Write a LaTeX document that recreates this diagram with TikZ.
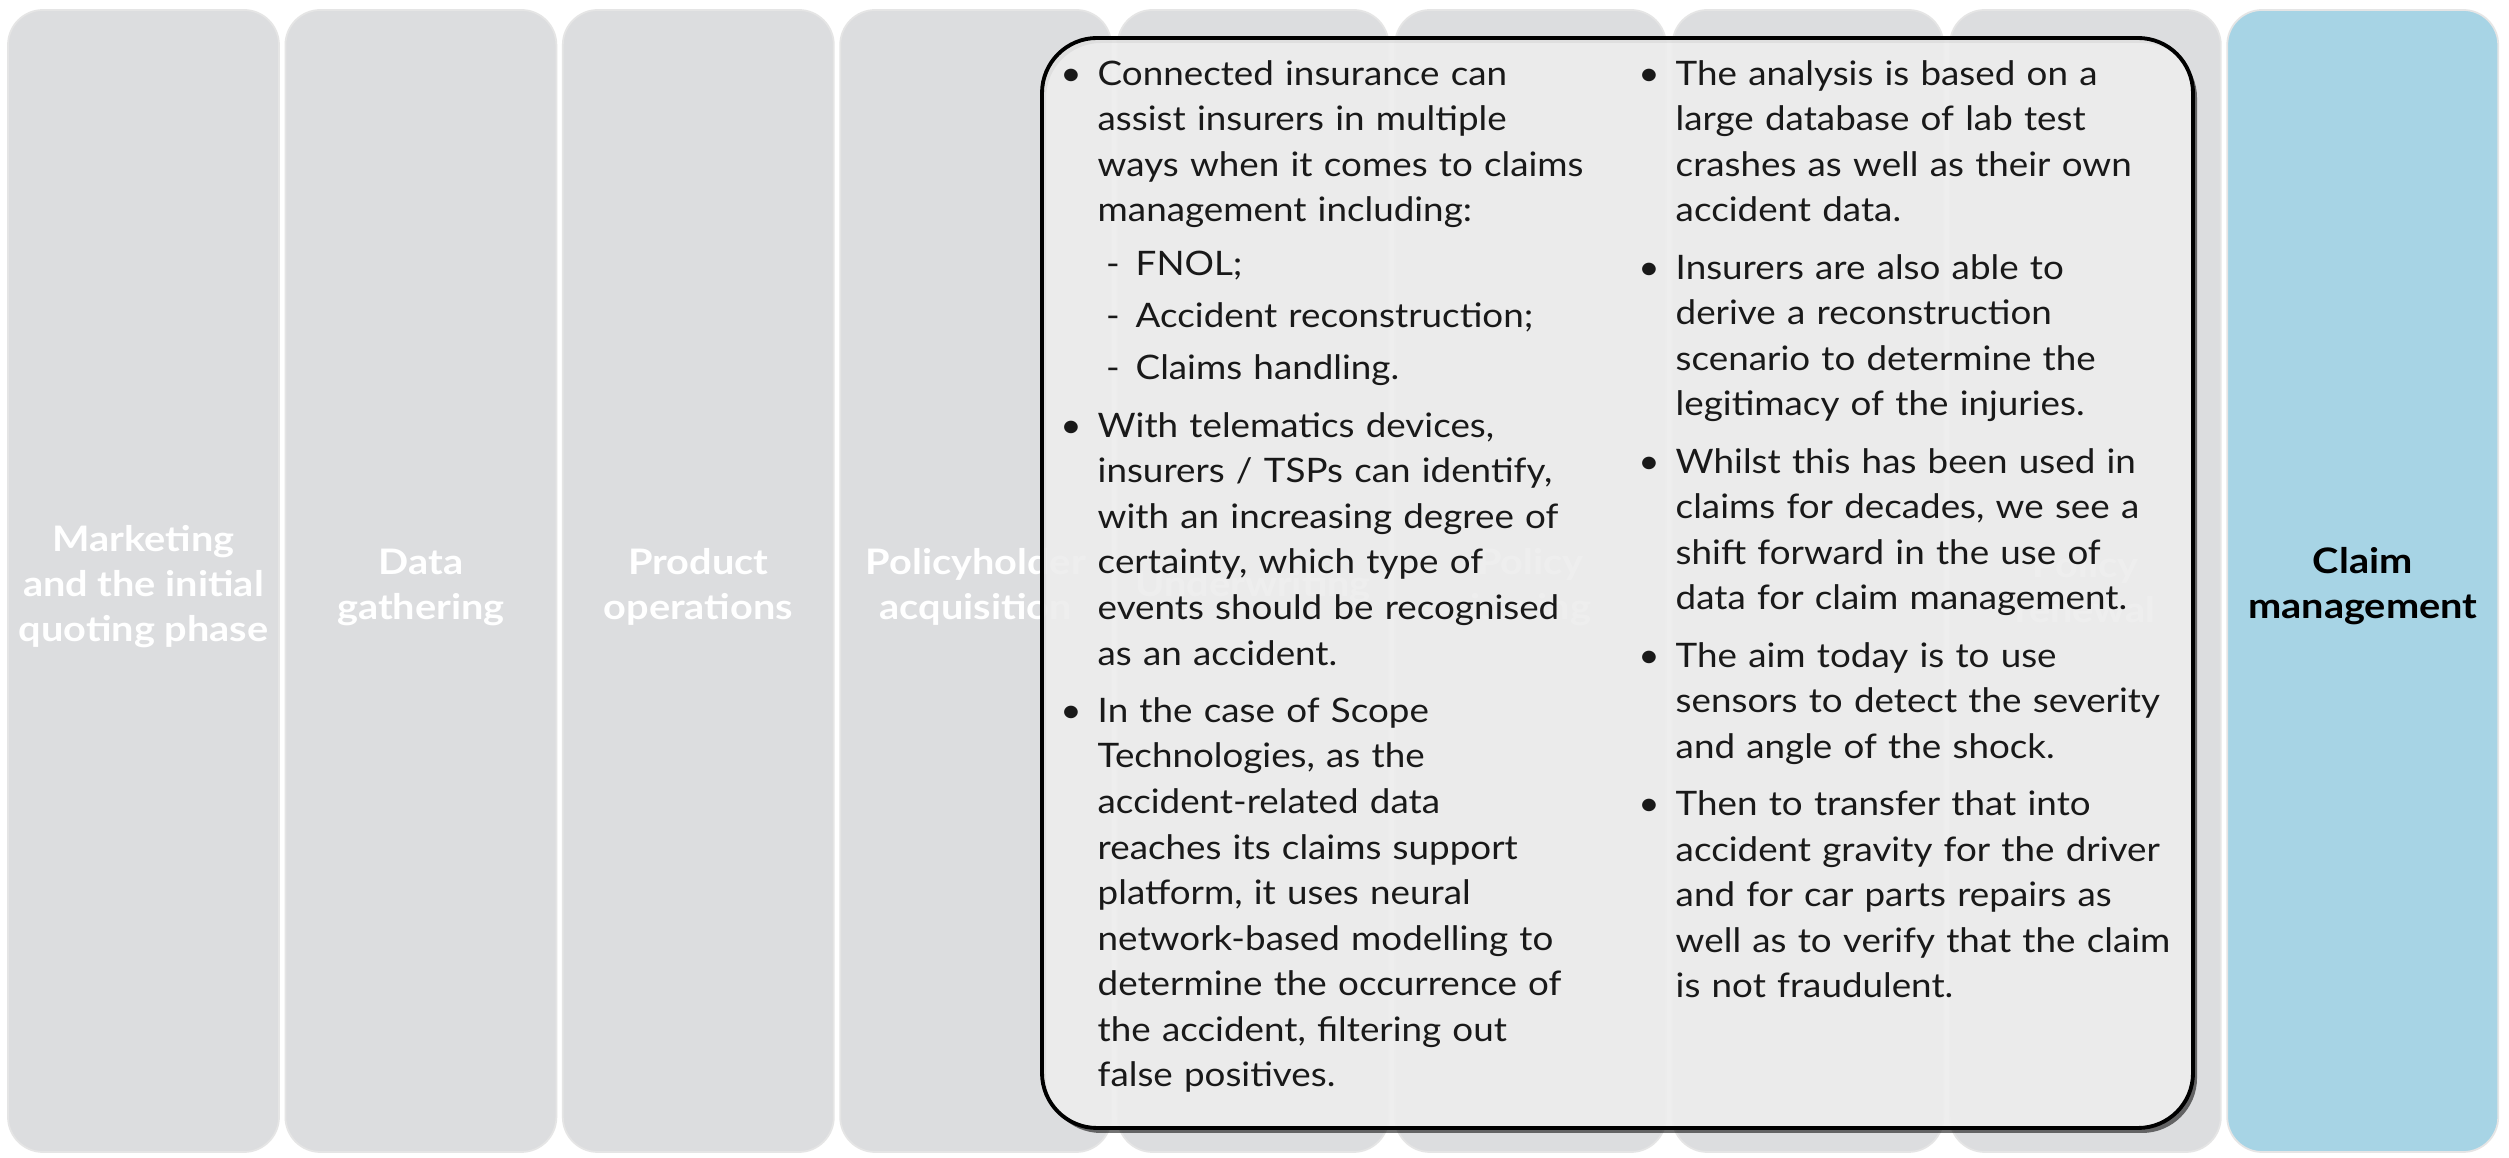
\documentclass[tikz,border=0pt]{standalone}
\usepackage{fontspec}
\setmainfont{Lato}[FakeStretch=1.09]
\newfontfamily\stagefont{Lato}[FakeStretch=1.13]
\usepackage{enumitem}

\definecolor{stagegray}{HTML}{DCDDDF}
\definecolor{claimblue}{HTML}{A7D4E5}
\definecolor{notegray}{HTML}{EDEDED}

\tikzset{
  stage/.style={fill=stagegray, draw=black!10, line width=0.5pt, rounded corners=0.35cm,
    minimum width=2.71cm, minimum height=11.42cm, inner sep=0pt},
  stagelabel/.style={text=white, align=center, font=\stagefont\fontsize{10}{12.8}\selectfont\bfseries},
  notetext/.style={text width=6cm, align=left, inner sep=0pt, text=black!90,
    font=\fontsize{9.6}{12.95}\selectfont},
}

\begin{document}
\begin{tikzpicture}

\useasboundingbox[fill=white] (0,0) rectangle (25.09,11.58);

% value chain stages
\foreach \i/\lbl in {0/{Marketing\\and the initial\\quoting phase}, 1/{Data\\gathering},
  2/{Product\\operations}, 3/{Policyholder\\acquisition}, 4/{Underwriting},
  5/{Policy\\issuing}, 6/{}, 7/{Policy\\renewal}}
{
  \node[stage] (s\i) at (1.435+2.774*\i,5.77) {};
  \node[stagelabel] (t\i) at ([yshift=-0.06cm]s\i.center) {\lbl};
}
\node[stage, fill=claimblue] (claim) at (23.627,5.77) {};
\node[stagelabel, text=black] (tclaim) at ([yshift=-0.05cm]claim.center) {Claim\\management};

% note box with shadow
\fill[black, opacity=0.55, even odd rule]
  [rounded corners=0.55cm] (10.46,0.25) rectangle (21.97,11.15)
  [rounded corners=0.55cm] (10.42,0.30) rectangle (21.93,11.20);
\draw[line width=1.1pt, fill=notegray, fill opacity=0.9, rounded corners=0.55cm]
  (10.42,0.30) rectangle (21.93,11.20);

\node[notetext, anchor=base west] (left) at (10.70,11.184) {%
\begin{itemize}[leftmargin=0.27cm, labelsep=0.16cm, itemsep=3.4pt, topsep=0pt, parsep=0pt, partopsep=0pt]
\item Connected insurance can\\assist insurers in multiple\\ways when it comes to claims\\management including:
  \begin{itemize}[label=-, leftmargin=0.38cm, labelsep=0.16cm, itemsep=1.85pt, topsep=2.5pt, parsep=0pt, partopsep=0pt]
  \item FNOL;
  \item Accident reconstruction;
  \item Claims handling.
  \end{itemize}
\item With telematics devices,\\insurers / TSPs can identify,\\with an increasing degree of\\certainty, which type of\\events should be recognised\\as an accident.
\item In the case of Scope\\Technologies, as the\\accident-related data\\reaches its claims support\\platform, it uses neural\\network-based modelling to\\determine the occurrence of\\the accident, filtering out\\false positives.
\end{itemize}};

\node[notetext, anchor=base west] (right) at (16.48,11.184) {%
\begin{itemize}[leftmargin=0.27cm, labelsep=0.16cm, itemsep=3.4pt, topsep=0pt, parsep=0pt, partopsep=0pt]
\item The analysis is based on a\\large database of lab test\\crashes as well as their own\\accident data.
\item Insurers are also able to\\derive a reconstruction\\scenario to determine the\\legitimacy of the injuries.
\item Whilst this has been used in\\claims for decades, we see a\\shift forward in the use of\\data for claim management.
\item The aim today is to use\\sensors to detect the severity\\and angle of the shock.
\item Then to transfer that into\\accident gravity for the driver\\and for car parts repairs as\\well as to verify that the claim\\is not fraudulent.
\end{itemize}};

\end{tikzpicture}
\end{document}
